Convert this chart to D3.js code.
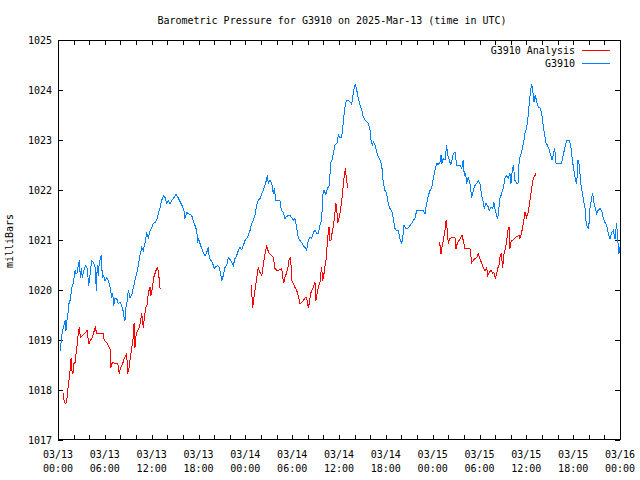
<!DOCTYPE html>
<html><head><meta charset="utf-8">
<script src="https://cdn.jsdelivr.net/npm/d3@7"></script>
<style>body{margin:0;background:#fff}svg{display:block}text{font-family:"DejaVu Sans Mono",monospace;font-size:10px;fill:#000}</style>
</head><body>
<svg id="c" width="640" height="480"></svg>
<script>
const title = "Barometric Pressure for G3910 on 2025-Mar-13 (time in UTC)";
const yLabel = "milliBars";
const seriesNames = ["G3910 Analysis", "G3910"];
const seriesColors = ["#ff0000", "#0080ff"];
const yTicks = [1017,1018,1019,1020,1021,1022,1023,1024,1025];
const startDate = Date.UTC(2025,2,13);

// G3910 observations: hours since 03/13 00:00 UTC, pressure (mb)
const obsHours = [0.29,0.47,0.68,0.90,1.02,1.15,1.32,1.41,1.54,1.83,1.96,2.18,2.31,2.43,2.60,2.73,2.86,2.98,3.11,3.37,3.55,3.75,3.93,4.06,4.32,4.57,4.78,4.91,5.03,5.16,5.29,5.55,5.68,5.85,6.02,6.24,6.44,6.62,6.75,6.88,7.01,7.14,7.30,7.52,7.72,7.94,8.16,8.33,8.46,8.58,8.71,8.84,9.01,9.22,9.44,9.65,9.86,10.08,10.29,10.50,10.72,10.93,11.15,11.36,11.57,11.79,12.00,12.21,12.43,12.64,12.85,12.98,13.19,13.36,13.54,13.71,13.96,14.13,14.35,14.57,14.86,15.12,15.37,15.63,15.89,16.14,16.27,16.49,16.69,16.91,17.13,17.33,17.55,17.77,17.90,18.02,18.19,18.41,18.61,18.83,19.05,19.25,19.38,19.60,19.82,20.02,20.24,20.46,20.66,20.84,20.97,21.18,21.39,21.61,21.82,22.03,22.25,22.46,22.67,22.89,23.10,23.32,23.53,23.74,23.96,24.17,24.38,24.60,24.81,25.02,25.24,25.46,25.66,25.97,26.10,26.39,26.65,26.81,26.94,27.16,27.38,27.58,27.71,27.93,28.18,28.44,28.61,28.86,29.08,29.30,29.50,29.72,29.94,30.14,30.36,30.58,30.78,31.00,31.22,31.42,31.64,31.86,32.06,32.28,32.50,32.71,32.92,33.14,33.35,33.56,33.78,33.91,34.08,34.33,34.50,34.76,34.94,35.10,35.27,35.49,35.78,35.91,36.13,36.34,36.47,36.64,36.81,36.98,37.19,37.41,37.63,37.83,37.96,38.09,38.27,38.47,38.69,38.91,39.11,39.33,39.55,39.75,39.97,40.10,40.26,40.39,40.61,40.83,41.03,41.25,41.47,41.67,41.89,42.11,42.31,42.53,42.75,42.95,43.17,43.39,43.59,43.81,44.03,44.16,44.33,44.54,44.75,44.93,45.09,45.31,45.52,45.73,45.95,46.37,46.80,47.02,47.23,47.44,47.66,47.87,48.08,48.30,48.51,48.72,48.94,49.07,49.19,49.36,49.58,49.79,49.92,50.09,50.31,50.47,50.64,50.86,51.08,51.28,51.50,51.72,51.92,52.05,52.23,52.36,52.56,52.78,53.00,53.20,53.42,53.64,53.84,54.06,54.28,54.49,54.61,54.83,55.05,55.25,55.47,55.69,55.85,56.02,56.20,56.33,56.49,56.62,56.84,57.04,57.26,57.48,57.69,57.90,58.03,58.16,58.33,58.55,58.76,58.93,59.10,59.28,59.53,59.70,59.83,60.04,60.21,60.38,60.56,60.68,60.81,60.98,61.15,61.33,61.53,61.75,61.97,62.09,62.30,62.52,62.68,62.94,63.12,63.29,63.45,63.63,63.80,64.16,64.53,64.73,64.95,65.17,65.50,65.68,65.89,66.10,66.32,66.45,66.62,66.78,66.96,67.13,67.29,67.51,67.64,67.81,67.99,68.15,68.37,68.50,68.66,68.83,69.01,69.18,69.43,69.65,69.86,70.08,70.29,70.50,70.72,70.93,71.14,71.36,71.57,71.74,71.87,72.00];
const obsValues = [1018.79,1019.09,1019.25,1019.39,1019.19,1019.39,1019.59,1019.73,1019.79,1020.09,1020.13,1020.39,1020.33,1020.33,1020.49,1020.59,1020.25,1020.43,1020.25,1020.43,1020.49,1020.43,1020.09,1020.25,1020.59,1020.55,1020.43,1019.99,1020.49,1020.29,1020.55,1020.69,1020.25,1020.29,1020.19,1020.25,1020.19,1020.09,1019.99,1019.85,1019.93,1019.69,1019.83,1019.83,1019.73,1019.75,1019.69,1019.59,1019.45,1019.39,1019.65,1019.75,1019.99,1019.85,1019.89,1020.05,1020.19,1020.33,1020.49,1020.69,1020.85,1020.79,1020.95,1021.13,1021.05,1021.19,1021.25,1021.33,1021.35,1021.39,1021.53,1021.59,1021.73,1021.83,1021.89,1021.85,1021.73,1021.79,1021.73,1021.79,1021.85,1021.91,1021.85,1021.77,1021.69,1021.59,1021.43,1021.55,1021.53,1021.51,1021.49,1021.39,1021.29,1021.19,1020.95,1021.03,1020.93,1020.83,1020.75,1020.69,1020.75,1020.85,1020.65,1020.59,1020.53,1020.43,1020.47,1020.49,1020.45,1020.33,1020.19,1020.29,1020.45,1020.49,1020.65,1020.61,1020.55,1020.49,1020.63,1020.69,1020.79,1020.85,1020.81,1020.89,1020.99,1021.03,1021.09,1021.19,1021.33,1021.39,1021.49,1021.71,1021.79,1021.85,1021.93,1022.03,1022.17,1022.29,1022.13,1022.19,1022.13,1021.93,1022.03,1021.79,1021.79,1021.79,1021.59,1021.55,1021.43,1021.47,1021.49,1021.49,1021.45,1021.39,1021.43,1021.25,1021.05,1020.99,1020.95,1020.89,1020.85,1020.79,1020.99,1021.05,1021.03,1021.15,1021.19,1021.13,1021.13,1021.29,1021.39,1021.89,1021.99,1021.91,1022.03,1022.09,1022.55,1022.59,1022.73,1022.90,1022.94,1023.10,1023.04,1023.06,1023.24,1023.50,1023.70,1023.80,1023.80,1023.76,1023.72,1023.94,1024.04,1024.12,1024.00,1023.84,1023.70,1023.60,1023.46,1023.40,1023.36,1023.34,1023.20,1023.00,1022.90,1022.96,1022.90,1022.76,1022.66,1022.60,1022.50,1022.15,1021.99,1021.93,1021.73,1021.63,1021.59,1021.43,1021.23,1021.19,1021.19,1021.03,1020.93,1021.05,1021.29,1021.23,1021.23,1021.25,1021.29,1021.33,1021.39,1021.43,1021.59,1021.59,1021.59,1021.53,1021.73,1021.89,1021.99,1022.03,1022.23,1022.39,1022.53,1022.51,1022.55,1022.70,1022.53,1022.63,1022.60,1022.90,1022.70,1022.63,1022.50,1022.60,1022.73,1022.76,1022.50,1022.50,1022.50,1022.43,1022.60,1022.29,1022.33,1022.13,1022.25,1022.13,1021.85,1021.99,1022.09,1022.13,1022.19,1022.13,1021.89,1021.75,1021.63,1021.73,1021.69,1021.59,1021.65,1021.63,1021.75,1021.59,1021.49,1021.43,1021.65,1021.83,1021.93,1022.03,1022.23,1022.29,1022.23,1022.33,1022.13,1022.33,1022.50,1022.19,1022.13,1022.13,1022.63,1022.70,1022.86,1023.00,1023.14,1023.24,1023.46,1023.74,1024.00,1024.12,1024.00,1023.76,1023.90,1023.76,1023.66,1023.64,1023.54,1023.36,1023.14,1022.94,1022.90,1022.80,1022.70,1022.60,1022.70,1022.84,1022.54,1022.54,1022.54,1022.70,1022.86,1023.00,1023.00,1022.90,1022.60,1022.39,1022.19,1022.13,1022.60,1022.50,1022.15,1021.99,1021.83,1021.65,1021.39,1021.25,1021.23,1021.63,1021.85,1021.93,1021.75,1021.65,1021.53,1021.59,1021.63,1021.59,1021.43,1021.35,1021.29,1021.13,1021.03,1021.15,1021.19,1021.03,1021.33,1020.95,1020.73,1020.85];

// G3910 Analysis: three separate runs
const anaHours1 = [0.68,0.81,1.02,1.15,1.32,1.45,1.54,1.67,1.79,1.92,2.05,2.18,2.31,2.47,2.60,2.73,2.86,3.11,3.37,3.55,3.72,3.84,3.97,4.14,4.39,4.65,4.78,4.96,5.38,5.80,5.93,6.24,6.44,6.66,6.75,6.96,7.30,7.65,7.85,8.03,8.29,8.49,8.80,8.93,9.10,9.35,9.52,9.65,9.74,9.86,10.03,10.21,10.42,10.63,10.72,10.93,11.06,11.24,11.40,11.49,11.66,11.79,11.91,12.08,12.26,12.43,12.64,12.77,12.94,13.07,13.19];
const anaValues1 = [1017.93,1017.75,1017.73,1017.83,1018.09,1018.25,1018.39,1018.63,1018.39,1018.33,1018.53,1018.55,1018.73,1018.93,1019.13,1019.25,1019.05,1019.09,1019.13,1019.15,1019.19,1019.05,1018.93,1018.99,1019.05,1019.19,1019.25,1019.13,1019.13,1019.13,1018.99,1018.95,1018.89,1018.83,1018.45,1018.55,1018.53,1018.53,1018.33,1018.45,1018.53,1018.63,1018.73,1018.33,1018.45,1018.73,1018.93,1019.05,1019.33,1018.85,1019.13,1019.19,1019.25,1019.43,1019.53,1019.25,1019.45,1019.65,1019.69,1019.85,1019.99,1020.05,1019.89,1020.03,1020.25,1020.33,1020.43,1020.45,1020.25,1020.03,1020.03];
const anaHours2 = [24.76,24.94,25.11,25.33,25.46,25.66,25.88,26.10,26.30,26.43,26.61,26.74,26.90,27.07,27.38,27.58,27.80,28.02,28.22,28.44,28.66,28.79,28.95,29.08,29.30,29.50,29.63,29.81,29.94,30.14,30.36,30.58,30.78,31.00,31.22,31.42,31.73,31.86,32.06,32.19,32.37,32.50,32.71,32.92,33.05,33.22,33.40,33.56,33.69,33.78,33.91,34.08,34.24,34.42,34.50,34.63,34.72,34.85,34.97,35.06,35.27,35.44,35.61,35.70,35.83,36.00,36.22,36.38,36.55,36.68,36.81,36.98,37.11];
const anaValues2 = [1020.09,1019.65,1019.85,1020.09,1020.25,1020.45,1020.35,1020.29,1020.49,1020.63,1020.79,1020.89,1020.79,1020.73,1020.69,1020.65,1020.43,1020.39,1020.39,1020.41,1020.43,1020.25,1020.15,1020.25,1020.35,1020.49,1020.63,1020.65,1020.19,1020.13,1020.05,1019.99,1019.89,1019.73,1019.75,1019.79,1019.85,1019.85,1019.65,1019.73,1019.93,1019.99,1020.05,1020.15,1019.79,1019.95,1020.09,1020.15,1020.35,1020.45,1020.19,1020.33,1020.53,1020.67,1020.99,1021.15,1021.25,1020.99,1020.99,1021.09,1021.27,1021.49,1021.73,1021.65,1021.35,1021.43,1021.63,1021.83,1022.09,1022.29,1022.43,1022.19,1022.05];
const anaHours3 = [48.81,48.94,49.07,49.19,49.36,49.58,49.71,49.87,50.00,50.22,50.44,50.86,50.99,51.15,51.37,51.59,51.76,51.92,52.14,52.78,53.00,53.20,53.42,53.64,53.84,54.06,54.28,54.49,54.71,54.92,55.05,55.25,55.47,55.69,55.85,56.02,56.20,56.37,56.49,56.62,56.79,56.97,57.15,57.31,57.49,57.65,57.78,57.90,58.07,58.25,58.51,58.76,59.06,59.18,59.40,59.61,59.83,60.04,60.25,60.47,60.68,60.89,61.11,61.24];
const anaValues3 = [1020.95,1020.89,1020.73,1020.85,1020.99,1021.19,1021.39,1021.19,1020.93,1021.03,1021.05,1021.05,1020.83,1020.93,1020.99,1021.05,1021.09,1020.99,1020.83,1020.83,1020.55,1020.59,1020.63,1020.65,1020.73,1020.63,1020.53,1020.45,1020.39,1020.45,1020.29,1020.35,1020.39,1020.33,1020.35,1020.23,1020.33,1020.45,1020.49,1020.65,1020.73,1020.45,1020.73,1020.83,1020.99,1021.19,1021.25,1020.83,1020.99,1020.99,1021.03,1021.07,1021.09,1021.03,1021.15,1021.33,1021.55,1021.45,1021.55,1021.79,1022.03,1022.23,1022.29,1022.33];

const L = 58, R = 620, T = 40, B = 440;
const svg = d3.select("#c");
const toDate = h => new Date(startDate + h * 3600e3);
const x = d3.scaleUtc().domain([toDate(0), toDate(72)]).range([L, R]);
const y = d3.scaleLinear().domain([1017, 1025]).range([B, T]);

svg.append("text").attr("x", 332).attr("y", 24).attr("text-anchor", "middle").text(title);

const g = svg.append("g").attr("shape-rendering", "crispEdges");
const tl = 5;
const minorTicks = x.ticks(d3.utcHour.every(2));
const majorTicks = x.ticks(d3.utcHour.every(6));
g.selectAll(".xtb").data(minorTicks).join("line").attr("class", "xtb")
  .attr("x1", d => Math.round(x(d)) + 0.5).attr("x2", d => Math.round(x(d)) + 0.5)
  .attr("y1", B).attr("y2", B - tl).attr("stroke", "#000");
g.selectAll(".xtt").data(minorTicks).join("line").attr("class", "xtt")
  .attr("x1", d => Math.round(x(d)) + 0.5).attr("x2", d => Math.round(x(d)) + 0.5)
  .attr("y1", T).attr("y2", T + tl).attr("stroke", "#000");
yTicks.forEach(v => {
  const yy = Math.round(y(v)) + 0.5;
  g.append("line").attr("x1", L).attr("x2", L + tl).attr("y1", yy).attr("y2", yy).attr("stroke", "#000");
  g.append("line").attr("x1", R).attr("x2", R - tl).attr("y1", yy).attr("y2", yy).attr("stroke", "#000");
  svg.append("text").attr("x", 52).attr("y", y(v) + 4).attr("text-anchor", "end").text(v);
});
const fmtD = d3.utcFormat("%m/%d"), fmtT = d3.utcFormat("%H:%M");
majorTicks.forEach(d => {
  const t = svg.append("text").attr("text-anchor", "middle");
  t.append("tspan").attr("x", x(d)).attr("y", 458).text(fmtD(d));
  t.append("tspan").attr("x", x(d)).attr("y", 472).text(fmtT(d));
});
svg.append("text").attr("transform", "translate(13,241) rotate(-90)").attr("text-anchor", "middle").text(yLabel);

const line = d3.line().x(d => x(toDate(d[0]))).y(d => y(d[1]));
const pairs = (hs, vs) => hs.map((h, i) => [h, vs[i]]);
const plot = svg.append("g").attr("shape-rendering", "crispEdges");
[[anaHours1, anaValues1], [anaHours2, anaValues2], [anaHours3, anaValues3]].forEach(([h, v]) => {
  plot.append("path").attr("d", line(pairs(h, v))).attr("fill", "none").attr("stroke", seriesColors[0]).attr("stroke-width", 1);
});
plot.append("path").attr("d", line(pairs(obsHours, obsValues))).attr("fill", "none").attr("stroke", seriesColors[1]).attr("stroke-width", 1);

g.append("rect").attr("x", L + 0.5).attr("y", T + 0.5).attr("width", R - L).attr("height", B - T - 1)
  .attr("fill", "none").attr("stroke", "#000");

seriesNames.forEach((n, i) => {
  const yy = 50 + i * 13;
  svg.append("text").attr("x", 575).attr("y", yy + 4).attr("text-anchor", "end").text(n);
  g.append("line").attr("x1", 582).attr("x2", 610).attr("y1", yy + 0.5).attr("y2", yy + 0.5).attr("stroke", seriesColors[i]);
});
</script>
</body></html>
